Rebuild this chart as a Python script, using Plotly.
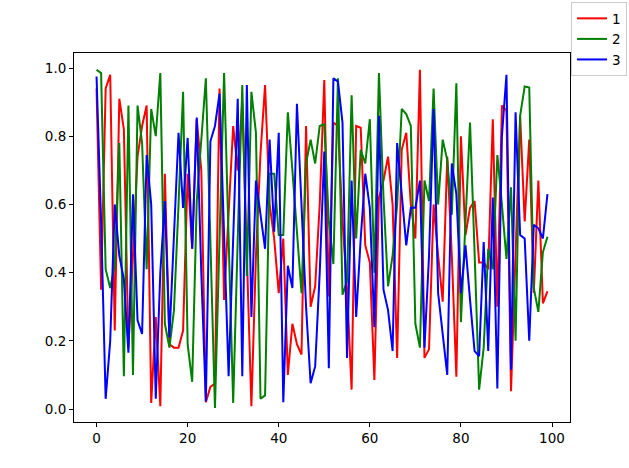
import plotly.graph_objects as go

x_values = list(range(100))

series_1 = [0.94, 0.35, 0.94, 0.98, 0.23, 0.91, 0.82, 0.18, 0.45, 0.74,
            0.83, 0.89, 0.018, 0.27, 0.008, 0.69, 0.19, 0.18, 0.18, 0.23,
            0.69, 0.47, 0.85, 0.7, 0.02, 0.065, 0.075, 0.94, 0.32, 0.58,
            0.83, 0.7, 0.9, 0.45, 0.008, 0.45, 0.75, 0.95, 0.6, 0.5,
            0.34, 0.5, 0.1, 0.25, 0.19, 0.16, 0.83, 0.3, 0.36, 0.6,
            0.965, 0.33, 0.84, 0.83, 0.55, 0.35, 0.057, 0.83, 0.825, 0.48,
            0.43, 0.085, 0.62, 0.67, 0.74, 0.6, 0.15, 0.76, 0.81, 0.6,
            0.5, 0.995, 0.15, 0.175, 0.6, 0.45, 0.315, 0.74, 0.45, 0.095,
            0.8, 0.51, 0.59, 0.61, 0.43, 0.43, 0.41, 0.85, 0.3, 0.89,
            0.875, 0.052, 0.45, 0.86, 0.55, 0.79, 0.34, 0.67, 0.31, 0.345]

series_2 = [0.995, 0.985, 0.41, 0.355, 0.42, 0.78, 0.096, 0.89, 0.1, 0.89,
            0.78, 0.41, 0.88, 0.8, 0.985, 0.25, 0.18, 0.29, 0.6, 0.93,
            0.19, 0.08, 0.61, 0.78, 0.97, 0.49, 0.003, 0.5, 0.985, 0.5,
            0.018, 0.5, 0.95, 0.39, 0.93, 0.81, 0.03, 0.04, 0.69, 0.69,
            0.51, 0.51, 0.87, 0.7, 0.52, 0.34, 0.72, 0.79, 0.72, 0.83,
            0.835, 0.55, 0.425, 0.97, 0.335, 0.375, 0.92, 0.5, 0.76, 0.72,
            0.85, 0.4, 0.985, 0.62, 0.36, 0.45, 0.6, 0.88, 0.865, 0.83,
            0.25, 0.18, 0.67, 0.61, 0.94, 0.6, 0.79, 0.73, 0.57, 0.955,
            0.255, 0.55, 0.84, 0.46, 0.057, 0.18, 0.47, 0.41, 0.745, 0.6,
            0.44, 0.65, 0.2, 0.86, 0.946, 0.943, 0.355, 0.285, 0.46, 0.505]

series_3 = [0.975, 0.55, 0.03, 0.2, 0.6, 0.45, 0.38, 0.165, 0.63, 0.26,
            0.22, 0.745, 0.6, 0.03, 0.4, 0.61, 0.21, 0.5, 0.81, 0.59,
            0.795, 0.47, 0.855, 0.4, 0.022, 0.785, 0.83, 0.925, 0.5, 0.096,
            0.5, 0.91, 0.096, 0.95, 0.27, 0.67, 0.57, 0.47, 0.79, 0.52,
            0.81, 0.02, 0.42, 0.355, 0.895, 0.62, 0.3, 0.076, 0.125, 0.4,
            0.755, 0.12, 0.97, 0.96, 0.84, 0.15, 0.67, 0.27, 0.5, 0.69,
            0.59, 0.24, 0.86, 0.35, 0.29, 0.17, 0.78, 0.63, 0.48, 0.59,
            0.59, 0.67, 0.18, 0.45, 0.88, 0.34, 0.22, 0.1, 0.72, 0.63,
            0.34, 0.48, 0.32, 0.17, 0.155, 0.49, 0.17, 0.62, 0.06, 0.8,
            0.98, 0.115, 0.87, 0.51, 0.5, 0.2, 0.54, 0.53, 0.5, 0.63]

series_names = ["1", "2", "3"]
series_colors = ["red", "green", "blue"]
x_ticks = [0, 20, 40, 60, 80, 100]
y_ticks = [0.0, 0.2, 0.4, 0.6, 0.8, 1.0]

fig = go.Figure()
for name, color, vals in zip(series_names, series_colors, [series_1, series_2, series_3]):
    fig.add_trace(go.Scatter(x=x_values, y=vals, mode="lines", name=name,
                             line=dict(color=color, width=2)))

font = dict(family="DejaVu Sans", size=13.5, color="black")
fig.update_layout(
    width=629, height=468,
    margin=dict(l=74, r=59, t=53, b=46, autoexpand=False),
    paper_bgcolor="white", plot_bgcolor="white",
    font=font,
    showlegend=True,
    legend=dict(x=1.115, y=1.138, xanchor="right", yanchor="top",
                bordercolor="#cccccc", borderwidth=1,
                bgcolor="rgba(255,255,255,0.8)", itemwidth=30,
                font=font, tracegroupgap=0),
)
fig.update_xaxes(range=[-4.95, 103.95], tickvals=x_ticks,
                 ticktext=[str(t) for t in x_ticks],
                 showgrid=False, zeroline=False, showline=True, linecolor="black",
                 linewidth=1, mirror=True, ticks="outside", ticklen=4,
                 tickcolor="black")
fig.update_yaxes(range=[-0.038, 1.044], tickvals=y_ticks,
                 ticktext=[f"{t:.1f}" for t in y_ticks],
                 showgrid=False, zeroline=False, showline=True, linecolor="black",
                 linewidth=1, mirror=True, ticks="outside", ticklen=4,
                 tickcolor="black")

fig.write_html("out.html",
               config={"displayModeBar": False},
               post_script="document.body.style.margin='0';document.body.style.padding='0';")
